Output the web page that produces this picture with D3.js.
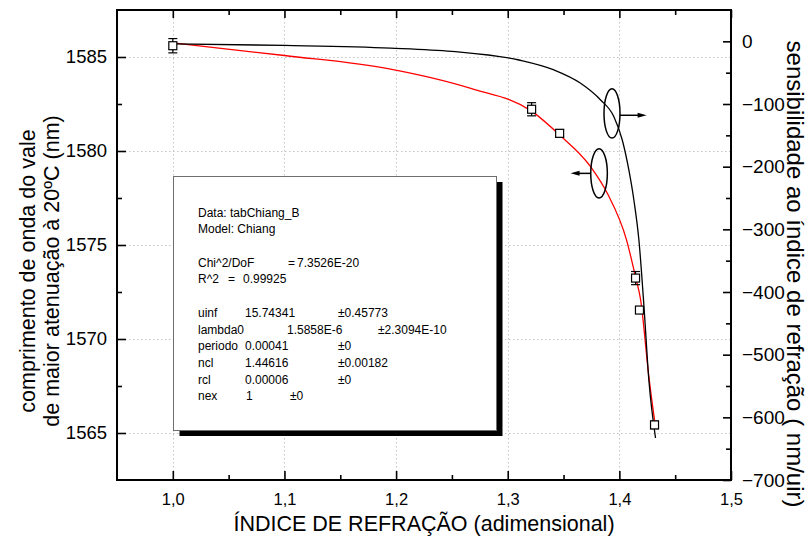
<!DOCTYPE html>
<html><head><meta charset="utf-8">
<script src="https://cdnjs.cloudflare.com/ajax/libs/d3/7.8.5/d3.min.js"></script>
<style>
body{margin:0;background:#fff}
svg{display:block}
text{font-family:"Liberation Sans",Arial,Helvetica,sans-serif;fill:#000}
</style>
</head><body><div id="chart"></div>
<script>
// ---- data ----
const xMajorTicks = [1.0, 1.1, 1.2, 1.3, 1.4, 1.5];
const xTickLabels = ["1,0", "1,1", "1,2", "1,3", "1,4", "1,5"];
const xMinorTicks = [1.05, 1.15, 1.25, 1.35, 1.45];
const leftMajorTicks = [1565, 1570, 1575, 1580, 1585];
const leftMinorTicks = [1567.5, 1572.5, 1577.5, 1582.5];
const rightMajorTicks = [0, -100, -200, -300, -400, -500, -600, -700];
const rightMinorTicks = [-50, -150, -250, -350, -450, -550, -650];

// measured points: refractive index vs wavelength (nm)
const pointX = [1.0, 1.3214, 1.3465, 1.4145, 1.418, 1.4315];
const pointY = [1585.6, 1582.22, 1580.94, 1573.24, 1571.54, 1565.43];
const pointErr = [0.38, 0.35, 0.2, 0.35, 0.15, 0.2];

// fitted curve (red, left axis)
const fitX = [1.0, 1.1, 1.195, 1.267, 1.3214, 1.3465, 1.3742, 1.3892, 1.4064, 1.4145, 1.419, 1.4264, 1.4324];
const fitY = [1585.75, 1585.08, 1584.36, 1583.33, 1582.12, 1580.85, 1579.17, 1577.75, 1575.27, 1573.3, 1572.1, 1568.0, 1565.3];

// sensitivity curve (black, right axis)
const sensX = [1.0, 1.1, 1.195, 1.25, 1.31, 1.3414, 1.3653, 1.3832, 1.3951, 1.4026, 1.4085, 1.413, 1.4175, 1.422, 1.4264, 1.4324];
const sensY = [-4, -6.5, -10.7, -16, -29.8, -45.7, -67, -93.6, -120.2, -157.4, -205.3, -253.2, -317, -422, -540, -633];

// fit report box
const fitHeader = ["Data: tabChiang_B", "Model: Chiang"];
const fitStatNames = ["Chi^2/DoF", "R^2"];
const fitStatValues = ["7.3526E-20", "0.99925"];
const paramNames = ["uinf", "lambda0", "periodo", "ncl", "rcl", "nex"];
const paramValues = ["15.74341", "1.5858E-6", "0.00041", "1.44616", "0.00006", "1"];
const paramErrors = ["±0.45773", "±2.3094E-10", "±0", "±0.00182", "±0", "±0"];

const xTitle = "ÍNDICE DE REFRAÇÃO (adimensional)";
const leftTitle = ["comprimento de onda do vale", "de maior atenuação à 20ºC (nm)"];
const rightTitle = "sensibilidade ao índice de refração ( nm/uir)";

// ---- layout ----
const W = 811, H = 547;
const L = 117, R = 731, T = 10, B = 480;

const svg = d3.select("#chart").append("svg").attr("width", W).attr("height", H);

const x = d3.scaleLinear().domain([0.95, 1.5]).range([L, R]);
const yL = d3.scaleLinear().domain([1562.5, 1587.5]).range([B, T]);
const yR = d3.scaleLinear().domain([-700, 50]).range([B, T]);

// grid
const grid = svg.append("g").attr("stroke", "#c4c4c4").attr("stroke-width", 1).attr("stroke-dasharray", "1.5,2.5");
grid.selectAll("line.v").data(xMajorTicks.slice(0, 5)).join("line")
  .attr("x1", d => Math.round(x(d)) + 0.5).attr("x2", d => Math.round(x(d)) + 0.5)
  .attr("y1", T).attr("y2", B);
grid.selectAll("line.h").data(leftMajorTicks).join("line")
  .attr("y1", d => Math.round(yL(d)) + 0.5).attr("y2", d => Math.round(yL(d)) + 0.5)
  .attr("x1", L).attr("x2", R);

// fit report box with shadow
const bx = 173, by = 176, bw = 323, bh = 254;
svg.append("rect").attr("x", bx + 6.5).attr("y", by + 6).attr("width", bw).attr("height", bh).attr("fill", "#000");
svg.append("rect").attr("x", bx + 0.5).attr("y", by + 0.5).attr("width", bw).attr("height", bh)
  .attr("fill", "#fff").attr("stroke", "#6e6e6e").attr("stroke-width", 1);
const tb = svg.append("g").style("font-size", "12px");
const lineH = 16.7, firstBase = 216.6, col0 = 198;
fitHeader.forEach((t, i) => tb.append("text").attr("x", col0).attr("y", firstBase + i * lineH).text(t));
const statEq = [288, 228], statVal = [297, 243];
fitStatNames.forEach((t, i) => {
  const yy = firstBase + (3 + i) * lineH;
  tb.append("text").attr("x", col0).attr("y", yy).text(t);
  tb.append("text").attr("x", statEq[i]).attr("y", yy).text("=");
  tb.append("text").attr("x", statVal[i]).attr("y", yy).text(fitStatValues[i]);
});
const valX = [245, 287, 245, 245, 245, 246], errX = [338, 378, 338, 338, 338, 290];
paramNames.forEach((t, i) => {
  const yy = firstBase + (6 + i) * lineH;
  tb.append("text").attr("x", col0).attr("y", yy).text(t);
  tb.append("text").attr("x", valX[i]).attr("y", yy).text(paramValues[i]);
  tb.append("text").attr("x", errX[i]).attr("y", yy).text(paramErrors[i]);
});

// curves
const fitLine = d3.line().x((d, i) => x(fitX[i])).y((d, i) => yL(fitY[i])).curve(d3.curveMonotoneX);
svg.append("path").attr("d", fitLine(fitX)).attr("fill", "none").attr("stroke", "#ff0000").attr("stroke-width", 1.3);
const sensLine = d3.line().x((d, i) => x(sensX[i])).y((d, i) => yR(sensY[i])).curve(d3.curveMonotoneX);
svg.append("path").attr("d", sensLine(sensX)).attr("fill", "none").attr("stroke", "#000").attr("stroke-width", 1.3);

// points with error bars
const pts = svg.append("g").attr("stroke", "#000").attr("stroke-width", 1.2);
pointX.forEach((px, i) => {
  const cx = x(px), cy = yL(pointY[i]);
  const y1 = yL(pointY[i] + pointErr[i]), y2 = yL(pointY[i] - pointErr[i]);
  pts.append("line").attr("x1", cx).attr("x2", cx).attr("y1", y1).attr("y2", y2);
  pts.append("line").attr("x1", cx - 4.5).attr("x2", cx + 4.5).attr("y1", y1).attr("y2", y1);
  pts.append("line").attr("x1", cx - 4.5).attr("x2", cx + 4.5).attr("y1", y2).attr("y2", y2);
  pts.append("rect").attr("x", cx - 4).attr("y", cy - 4).attr("width", 8).attr("height", 8).attr("fill", "#fff");
});

// annotations: ellipses + arrows
const ann = svg.append("g").attr("stroke", "#000").attr("stroke-width", 1.5).attr("fill", "none");
const eR = {x: 1.3934, y: 1582.0}, eLft = {x: 1.3818, y: 1578.81};
ann.append("ellipse").attr("cx", x(eR.x)).attr("cy", yL(eR.y)).attr("rx", 8).attr("ry", 24.7);
ann.append("ellipse").attr("cx", x(eLft.x)).attr("cy", yL(eLft.y)).attr("rx", 8.3).attr("ry", 24.7);
const arY1 = yL(1581.9), arY2 = yL(eLft.y);
const aR0 = x(eR.x) + 8, aR1 = x(1.4244);
ann.append("line").attr("x1", aR0).attr("x2", aR1 - 8).attr("y1", arY1).attr("y2", arY1);
svg.append("path").attr("d", `M${aR1},${arY1} L${aR1 - 9},${arY1 - 2.5} L${aR1 - 9},${arY1 + 2.5} Z`).attr("fill", "#000");
const aL0 = x(eLft.x) - 8.3, aL1 = x(1.3563);
ann.append("line").attr("x1", aL0).attr("x2", aL1 + 8).attr("y1", arY2).attr("y2", arY2);
svg.append("path").attr("d", `M${aL1},${arY2} L${aL1 + 9},${arY2 - 2.5} L${aL1 + 9},${arY2 + 2.5} Z`).attr("fill", "#000");

// axes ticks
function styleAxis(g){ g.select(".domain").remove(); g.selectAll("line").attr("stroke", "#000").attr("stroke-width", 1.6); g.attr("font-family", null).attr("font-size", null); }
svg.append("g").attr("transform", `translate(0,${B})`)
  .call(d3.axisBottom(x).tickValues(xMajorTicks).tickSize(-9).tickPadding(13.5).tickFormat((d, i) => xTickLabels[i]))
  .call(styleAxis).call(g => g.selectAll("text").style("font-size", "16.5px"));
svg.append("g").attr("transform", `translate(0,${B})`)
  .call(d3.axisBottom(x).tickValues(xMinorTicks).tickSize(-5).tickFormat("")).call(styleAxis);
svg.append("g").attr("transform", `translate(0,${T})`)
  .call(d3.axisTop(x).tickValues(xMajorTicks).tickSize(-8).tickFormat("")).call(styleAxis);
svg.append("g").attr("transform", `translate(0,${T})`)
  .call(d3.axisTop(x).tickValues(xMinorTicks).tickSize(-5).tickFormat("")).call(styleAxis);
svg.append("g").attr("transform", `translate(${L},0)`)
  .call(d3.axisLeft(yL).tickValues(leftMajorTicks).tickSize(-9).tickPadding(10).tickFormat(d3.format("d")))
  .call(styleAxis).call(g => g.selectAll("text").style("font-size", "18.5px"));
svg.append("g").attr("transform", `translate(${L},0)`)
  .call(d3.axisLeft(yL).tickValues(leftMinorTicks).tickSize(-5).tickFormat("")).call(styleAxis);
svg.append("g").attr("transform", `translate(${R},0)`)
  .call(d3.axisRight(yR).tickValues(rightMajorTicks).tickSize(-8).tickPadding(11).tickFormat(d3.format("d")))
  .call(styleAxis).call(g => g.selectAll("text").style("font-size", "19px"));
svg.append("g").attr("transform", `translate(${R},0)`)
  .call(d3.axisRight(yR).tickValues(rightMinorTicks).tickSize(-5).tickFormat("")).call(styleAxis);

// frame
svg.append("rect").attr("x", L).attr("y", T).attr("width", R - L).attr("height", B - T)
  .attr("fill", "none").attr("stroke", "#000").attr("stroke-width", 2);

// titles
svg.append("text").attr("x", (L + R) / 2).attr("y", 531).attr("text-anchor", "middle")
  .style("font-size", "21.5px").text(xTitle);
const ltX = [27, 51.5];
leftTitle.forEach((t, i) => {
  svg.append("text").attr("transform", `translate(${ltX[i]},271) rotate(-90)`)
    .attr("text-anchor", "middle").attr("dy", "0.35em").style("font-size", "21.5px").text(t);
});
svg.append("text").attr("transform", `translate(795,274) rotate(90)`)
  .attr("text-anchor", "middle").attr("dy", "0.35em").style("font-size", "24px").text(rightTitle);
</script>
</body></html>
